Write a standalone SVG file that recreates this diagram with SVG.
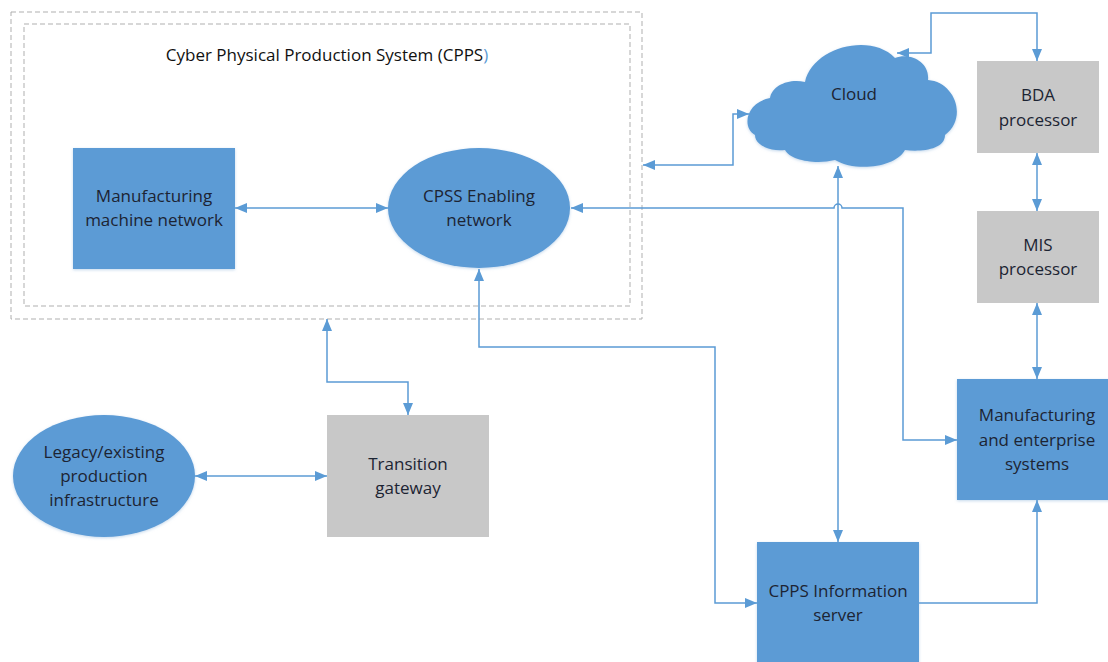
<svg xmlns="http://www.w3.org/2000/svg" width="1108" height="662" viewBox="0 0 1108 662">
<style>
.frame{fill:none;stroke:#AFAFAF;stroke-width:1;stroke-dasharray:5 3}
.blue{fill:#5B9BD5}
.gray{fill:#C8C8C8}
.lbl{font-family:"Open Sans","Liberation Sans",sans-serif;font-size:17px;fill:#1C2433;text-anchor:middle}
.title{font-family:"Open Sans","Liberation Sans",sans-serif;font-size:17px;fill:#111;text-anchor:middle}
.con{fill:none;stroke:#5B9BD5;stroke-width:1.5}
</style>
<defs>
<marker id="arr" viewBox="0 0 12 10" refX="12" refY="5" markerWidth="12" markerHeight="10" markerUnits="userSpaceOnUse" orient="auto-start-reverse">
<path d="M0,0 L12,5 L0,10 z" fill="#5B9BD5"/>
</marker>
<filter id="sh" x="-10%" y="-10%" width="120%" height="120%">
<feDropShadow dx="0" dy="1" stdDeviation="1.5" flood-color="#9DBFE0" flood-opacity="0.6"/>
</filter>
</defs>
<rect width="1108" height="662" fill="#fff"/>

<g id="cpps">
<rect class="frame" x="11" y="12" width="631" height="307"/>
<rect class="frame" x="24" y="24" width="606" height="282"/>
<text class="title" x="327" y="61">Cyber Physical Production System (CPPS<tspan fill="#5B9BD5">)</tspan></text>
</g>

<g id="mfg-machine">
<rect class="blue" x="73" y="148" width="162" height="121" filter="url(#sh)"/>
<text class="lbl" x="154" y="202">Manufacturing</text>
<text class="lbl" x="154" y="226">machine network</text>
</g>

<g id="cpss">
<ellipse class="blue" cx="479" cy="208" rx="91" ry="60" filter="url(#sh)"/>
<text class="lbl" x="479" y="202">CPSS Enabling</text>
<text class="lbl" x="479" y="226">network</text>
</g>

<g id="cloud">
<path class="blue" filter="url(#sh)" d="M 755 135 C 742 128, 745 103, 770 98 C 772 85, 790 78, 805 82 C 812 48, 870 32, 895 58 C 910 52, 930 62, 928 80 C 955 82, 968 118, 945 135 C 945 150, 920 152, 905 150 C 895 168, 855 172, 835 160 C 815 165, 790 160, 785 150 C 770 152, 755 145, 755 135 Z"/>
<text class="lbl" x="854" y="100">Cloud</text>
</g>

<g id="bda">
<rect class="gray" x="977" y="61" width="122" height="92"/>
<text class="lbl" x="1038" y="101">BDA</text>
<text class="lbl" x="1038" y="126">processor</text>
</g>

<g id="mis">
<rect class="gray" x="977" y="211" width="122" height="92"/>
<text class="lbl" x="1038" y="251">MIS</text>
<text class="lbl" x="1038" y="275">processor</text>
</g>

<g id="mfg-enterprise">
<rect class="blue" x="957" y="379" width="155" height="121" filter="url(#sh)"/>
<text class="lbl" x="1037" y="421">Manufacturing</text>
<text class="lbl" x="1037" y="446">and enterprise</text>
<text class="lbl" x="1037" y="470">systems</text>
</g>

<g id="info-server">
<rect class="blue" x="757" y="542" width="162" height="125" filter="url(#sh)"/>
<text class="lbl" x="838" y="597">CPPS Information</text>
<text class="lbl" x="838" y="621">server</text>
</g>

<g id="transition">
<rect class="gray" x="327" y="415" width="162" height="122"/>
<text class="lbl" x="408" y="470">Transition</text>
<text class="lbl" x="408" y="494">gateway</text>
</g>

<g id="legacy">
<ellipse class="blue" cx="104" cy="476" rx="91" ry="61" filter="url(#sh)"/>
<text class="lbl" x="104" y="458">Legacy/existing</text>
<text class="lbl" x="104" y="482">production</text>
<text class="lbl" x="104" y="506">infrastructure</text>
</g>

<g id="connectors">
<path class="con" d="M 235 208 H 388" marker-start="url(#arr)" marker-end="url(#arr)"/>
<path class="con" d="M 957 440 H 903 V 208 H 842 A 4 4 0 0 0 834 208 H 571" marker-start="url(#arr)" marker-end="url(#arr)"/>
<path class="con" d="M 643 165 H 733 V 114 H 749" marker-start="url(#arr)" marker-end="url(#arr)"/>
<path class="con" d="M 897 53 H 931 V 13 H 1037 V 61" marker-start="url(#arr)" marker-end="url(#arr)"/>
<path class="con" d="M 1037 153 V 211" marker-start="url(#arr)" marker-end="url(#arr)"/>
<path class="con" d="M 1037 303 V 379" marker-start="url(#arr)" marker-end="url(#arr)"/>
<path class="con" d="M 838 166 V 542" marker-start="url(#arr)" marker-end="url(#arr)"/>
<path class="con" d="M 919 603 H 1037 V 500" marker-end="url(#arr)"/>
<path class="con" d="M 479 269 V 347 H 715 V 603 H 757" marker-start="url(#arr)" marker-end="url(#arr)"/>
<path class="con" d="M 327 319 V 382 H 408 V 415" marker-start="url(#arr)" marker-end="url(#arr)"/>
<path class="con" d="M 195 476 H 327" marker-start="url(#arr)" marker-end="url(#arr)"/>
</g>
</svg>
